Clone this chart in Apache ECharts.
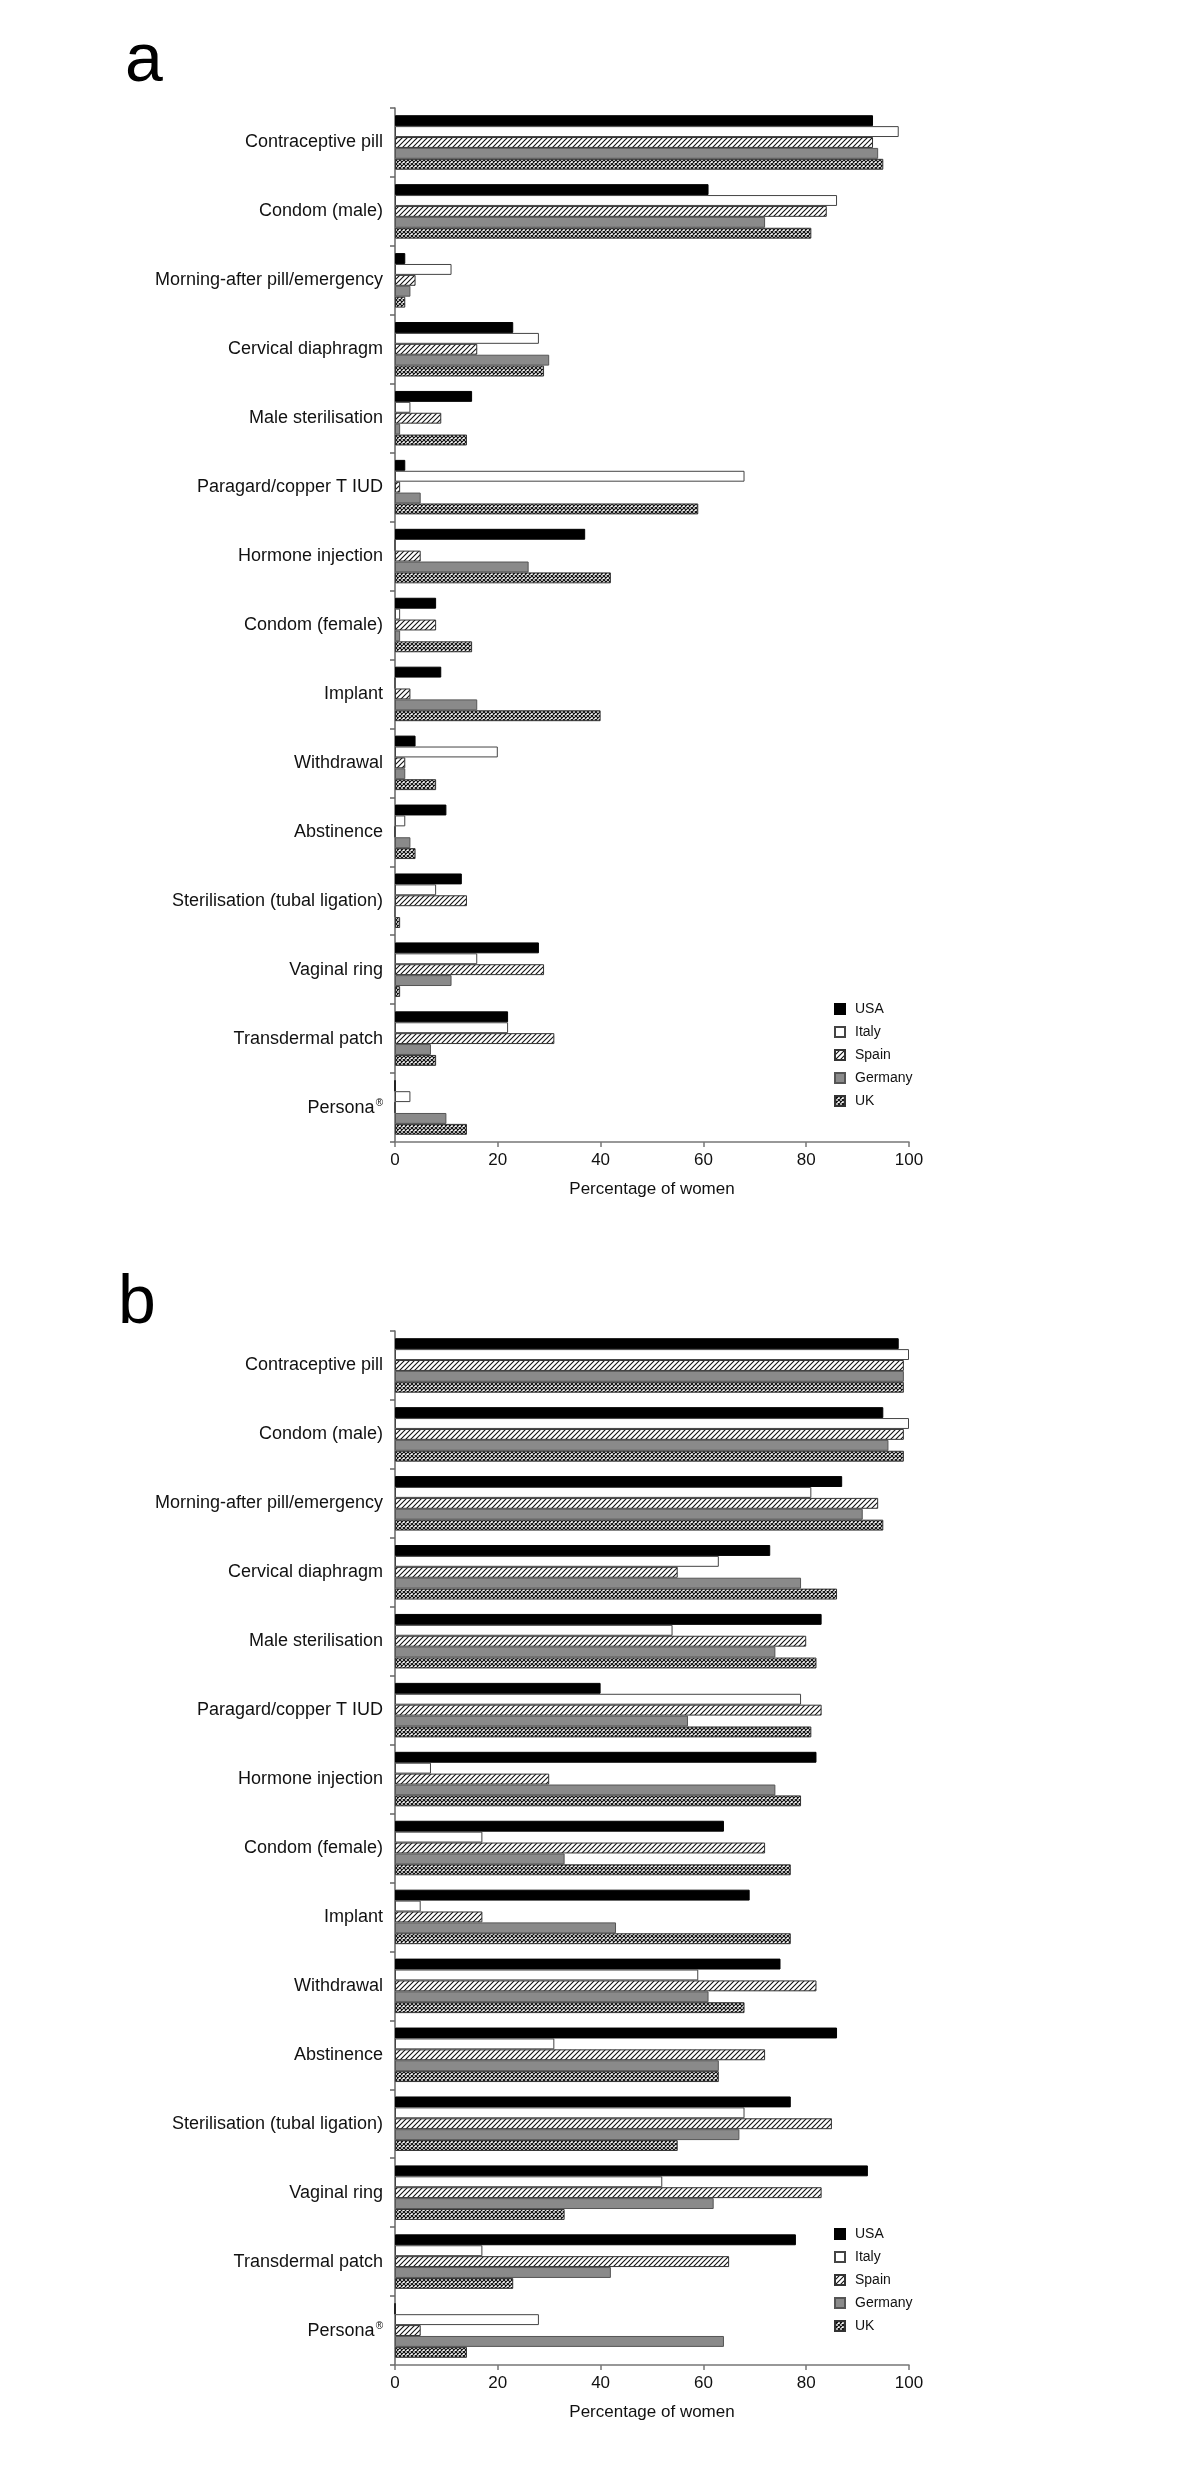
<!DOCTYPE html>
<html>
<head>
<meta charset="utf-8">
<script src="https://cdn.jsdelivr.net/npm/echarts@6/dist/echarts.min.js"></script>
<style>
html,body{margin:0;padding:0;background:#fff;}
#chart{width:1200px;height:2487px;}
</style>
</head>
<body>
<div id="chart"></div>
<script>
// ---- data ----
const categories = [
  'Contraceptive pill', 'Condom (male)', 'Morning-after pill/emergency', 'Cervical diaphragm',
  'Male sterilisation', 'Paragard/copper T IUD', 'Hormone injection', 'Condom (female)',
  'Implant', 'Withdrawal', 'Abstinence', 'Sterilisation (tubal ligation)', 'Vaginal ring',
  'Transdermal patch', 'Persona®'
];
const countries = ['USA', 'Italy', 'Spain', 'Germany', 'UK'];
const xTicks = [0, 20, 40, 60, 80, 100];
const panelLabels = ['a', 'b'];
const axisTitle = 'Percentage of women';

// panel a
const usaA     = [93, 61, 2, 23, 15, 2, 37, 8, 9, 4, 10, 13, 28, 22, 0];
const italyA   = [98, 86, 11, 28, 3, 68, 0, 1, 0, 20, 2, 8, 16, 22, 3];
const spainA   = [93, 84, 4, 16, 9, 1, 5, 8, 3, 2, 0, 14, 29, 31, 0];
const germanyA = [94, 72, 3, 30, 1, 5, 26, 1, 16, 2, 3, 0, 11, 7, 10];
const ukA      = [95, 81, 2, 29, 14, 59, 42, 15, 40, 8, 4, 1, 1, 8, 14];

// panel b
const usaB     = [98, 95, 87, 73, 83, 40, 82, 64, 69, 75, 86, 77, 92, 78, 0];
const italyB   = [100, 100, 81, 63, 54, 79, 7, 17, 5, 59, 31, 68, 52, 17, 28];
const spainB   = [99, 99, 94, 55, 80, 83, 30, 72, 17, 82, 72, 85, 83, 65, 5];
const germanyB = [99, 96, 91, 79, 74, 57, 74, 33, 43, 61, 63, 67, 62, 42, 64];
const ukB      = [99, 99, 95, 86, 82, 81, 79, 77, 77, 68, 63, 55, 33, 23, 14];

// ---- patterns ----
function hatchCanvas() {
  const s = 5;
  const c = document.createElement('canvas');
  c.width = s; c.height = s;
  const g = c.getContext('2d');
  g.fillStyle = '#fff'; g.fillRect(0, 0, s, s);
  g.strokeStyle = '#111'; g.lineWidth = 1.1;
  g.beginPath();
  g.moveTo(-1, s + 1); g.lineTo(s + 1, -1);
  g.moveTo(-1, 1); g.lineTo(1, -1);
  g.moveTo(s - 1, s + 1); g.lineTo(s + 1, s - 1);
  g.stroke();
  return c;
}
function crossCanvas() {
  const c = document.createElement('canvas');
  c.width = 4; c.height = 4;
  const g = c.getContext('2d');
  g.fillStyle = '#fff'; g.fillRect(0, 0, 4, 4);
  g.strokeStyle = '#111'; g.lineWidth = 1.2;
  g.beginPath();
  g.moveTo(-1, -1); g.lineTo(5, 5);
  g.moveTo(-1, 5); g.lineTo(5, -1);
  g.stroke();
  return c;
}
const styles = [
  { color: '#000', borderColor: '#000', borderWidth: 1 },
  { color: '#fff', borderColor: '#444', borderWidth: 1 },
  { color: { image: hatchCanvas(), repeat: 'repeat' }, borderColor: '#333', borderWidth: 1 },
  { color: '#8a8a8a', borderColor: '#555', borderWidth: 1 },
  { color: { image: crossCanvas(), repeat: 'repeat' }, borderColor: '#333', borderWidth: 1 }
];

const panels = [
  { top: 108, data: [usaA, italyA, spainA, germanyA, ukA], legendTop: 1002, labelY: 68 },
  { top: 1331, data: [usaB, italyB, spainB, germanyB, ukB], legendTop: 2227, labelY: 1310 }
];
const FONT = 'Liberation Sans, Arial, Helvetica, sans-serif';

const grids = [], xAxes = [], yAxes = [], series = [], legends = [], graphics = [];
panels.forEach((p, i) => {
  grids.push({ left: 395, right: 291, top: p.top, height: 1034, containLabel: false });
  xAxes.push({
    type: 'value', gridIndex: i, min: xTicks[0], max: xTicks[xTicks.length - 1], interval: 20,
    axisLine: { show: true, lineStyle: { color: '#777', width: 1.5 } },
    axisTick: { show: true, length: 5, lineStyle: { color: '#777', width: 1.5 } },
    splitLine: { show: false },
    axisLabel: { fontFamily: FONT, fontSize: 17, color: '#111', margin: 10 },
    name: axisTitle, nameLocation: 'middle', nameGap: 39,
    nameTextStyle: { fontFamily: FONT, fontSize: 17, color: '#111' }
  });
  yAxes.push({
    type: 'category', gridIndex: i, data: categories, inverse: true,
    axisLine: { show: true, lineStyle: { color: '#666', width: 1.5 } },
    axisTick: { show: true, length: 5, lineStyle: { color: '#666', width: 1.5 } },
    axisLabel: {
      fontFamily: FONT, fontSize: 18, color: '#111', margin: 12,
      formatter: v => v.replace('®', '{sup|®}'),
      rich: { sup: { fontFamily: FONT, fontSize: 10, color: '#111', verticalAlign: 'top', padding: [0, 0, 0, 1] } }
    }
  });
  countries.forEach((c, k) => {
    series.push({
      type: 'bar', name: c, xAxisIndex: i, yAxisIndex: i, data: p.data[k],
      barWidth: 10.9, barGap: '0%', itemStyle: styles[k], silent: true
    });
  });
  legends.push({
    data: countries, orient: 'vertical', left: 834, top: p.legendTop,
    itemWidth: 10, itemHeight: 10, itemGap: 9, icon: 'rect', padding: 0,
    textStyle: { fontFamily: FONT, fontSize: 14, color: '#111', padding: [0, 0, 0, 5] }
  });
  graphics.push({
    type: 'text', left: i === 0 ? 125 : 118, top: p.labelY - 40,
    style: { text: panelLabels[i], fontFamily: FONT, fontSize: 68, fill: '#000' }
  });
});

const chart = echarts.init(document.getElementById('chart'), null, { renderer: 'canvas' });
chart.setOption({
  animation: false,
  backgroundColor: '#fff',
  grid: grids, xAxis: xAxes, yAxis: yAxes, series: series, legend: legends, graphic: graphics
});
</script>
</body>
</html>
